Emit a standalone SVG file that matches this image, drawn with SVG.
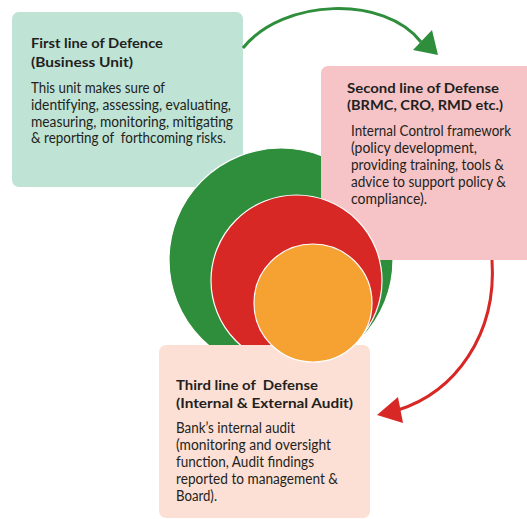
<svg xmlns="http://www.w3.org/2000/svg" width="527" height="519" viewBox="0 0 527 519">
  <style>
    .title { font-family: Lato, "Liberation Sans", sans-serif; font-weight: bold; font-size: 14px; fill: #231f20; }
    .body { font-family: Lato, "Liberation Sans", sans-serif; font-size: 14.6px; fill: #231f20; }
    .ring { stroke: #ffffff; stroke-width: 1.2; }
    .link { fill: none; stroke-width: 3; }
  </style>
  <rect width="527" height="519" fill="#ffffff"/>

  <g id="first-line">
    <rect x="12" y="12" width="231" height="175" rx="7" fill="#bfe3d5"/>
    <text class="title" x="31" y="47.5" textLength="132" lengthAdjust="spacingAndGlyphs">First line of Defence</text>
    <text class="title" x="31" y="66.5" textLength="102" lengthAdjust="spacingAndGlyphs">(Business Unit)</text>
    <text class="body" x="31" y="93" textLength="134" lengthAdjust="spacingAndGlyphs">This unit makes sure of</text>
    <text class="body" x="31" y="110" textLength="200" lengthAdjust="spacingAndGlyphs">identifying, assessing, evaluating,</text>
    <text class="body" x="31" y="126.5" textLength="202" lengthAdjust="spacingAndGlyphs">measuring, monitoring, mitigating</text>
    <text class="body" x="31" y="143" textLength="195" lengthAdjust="spacingAndGlyphs" xml:space="preserve">&amp; reporting of  forthcoming risks.</text>
  </g>

  <g id="outer-circle">
    <circle class="ring" cx="281" cy="260" r="112" fill="#2f8e3b"/>
  </g>

  <g id="second-line">
    <rect x="321" y="66" width="215" height="194" rx="7" fill="#f6c4c6"/>
    <text class="title" x="347" y="93" textLength="152" lengthAdjust="spacingAndGlyphs">Second line of Defense</text>
    <text class="title" x="347" y="110" textLength="156" lengthAdjust="spacingAndGlyphs">(BRMC, CRO, RMD etc.)</text>
    <text class="body" x="351" y="136" textLength="160" lengthAdjust="spacingAndGlyphs">Internal Control framework</text>
    <text class="body" x="351" y="153" textLength="126" lengthAdjust="spacingAndGlyphs">(policy development,</text>
    <text class="body" x="351" y="170" textLength="153" lengthAdjust="spacingAndGlyphs">providing training, tools &amp;</text>
    <text class="body" x="351" y="187" textLength="155" lengthAdjust="spacingAndGlyphs">advice to support policy &amp;</text>
    <text class="body" x="351" y="204" textLength="76" lengthAdjust="spacingAndGlyphs">compliance).</text>
  </g>

  <g id="middle-circle">
    <circle class="ring" cx="296.5" cy="280.5" r="85.5" fill="#d82826"/>
  </g>

  <g id="third-line">
    <rect x="159" y="345" width="211" height="173" rx="7" fill="#fcdfd5"/>
    <text class="title" x="176" y="390" textLength="142" lengthAdjust="spacingAndGlyphs" xml:space="preserve">Third line of  Defense</text>
    <text class="title" x="176" y="407.5" textLength="177" lengthAdjust="spacingAndGlyphs">(Internal &amp; External Audit)</text>
    <text class="body" x="176" y="433" textLength="119" lengthAdjust="spacingAndGlyphs">Bank’s internal audit</text>
    <text class="body" x="176" y="450" textLength="155" lengthAdjust="spacingAndGlyphs">(monitoring and oversight</text>
    <text class="body" x="176" y="467" textLength="138" lengthAdjust="spacingAndGlyphs">function, Audit findings</text>
    <text class="body" x="176" y="484" textLength="162" lengthAdjust="spacingAndGlyphs">reported to management &amp;</text>
    <text class="body" x="176" y="501" textLength="41" lengthAdjust="spacingAndGlyphs">Board).</text>
  </g>

  <g id="inner-circle">
    <circle class="ring" cx="313" cy="303" r="59" fill="#f6a233"/>
  </g>

  <g id="connectors">
    <path class="link" stroke="#2f8e3b" d="M243,48 C283,-2 385,-5 421,42"/>
    <polygon fill="#2f8e3b" points="438,55 413,50 432,30"/>
    <path class="link" stroke="#d82826" d="M492,260 C497,335 455,392 398,410"/>
    <polygon fill="#d82826" points="377,415 398,397 403,423"/>
  </g>
</svg>
